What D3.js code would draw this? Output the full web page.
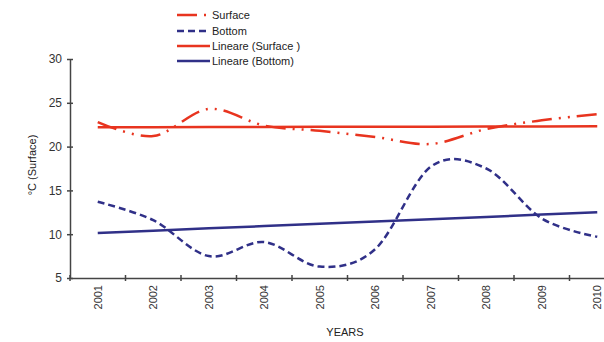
<!DOCTYPE html>
<html>
<head>
<meta charset="utf-8">
<script src="https://cdn.jsdelivr.net/npm/d3@7"></script>
<style>
  body { margin: 0; background: #fff; }
  svg { display: block; font-family: "Liberation Sans", Arial, sans-serif; }
</style>
</head>
<body>
<div id="graph_draw"></div>
<script>
// data
var years = ["2001","2002","2003","2004","2005","2006","2007","2008","2009","2010"];
var surface = [22.8, 21.2, 24.3, 22.4, 21.8, 21.1, 20.3, 22.0, 23.0, 23.7];
var bottom  = [13.7, 11.6, 7.5, 9.1, 6.3, 8.3, 17.7, 17.5, 11.8, 9.7];
var yTicks = [5, 10, 15, 20, 25, 30];
var legendNames = ["Surface", "Bottom", "Lineare (Surface )", "Lineare (Bottom)"];

var red = "#e8341f", blue = "#303088";
var width = 604, height = 342;

var svg = d3.select("#graph_draw").append("svg")
    .attr("width", width)
    .attr("height", height);

// scales - plot area runs past the right edge (cropped like the original)
var x = d3.scaleBand().domain(years).range([70, 625]).padding(0);
var y = d3.scaleLinear().domain([5, 30]).range([278, 59]);
var cx = function(d) { return x(d) + x.bandwidth() / 2; };

// linear trend (least squares) for each series
function trend(vals) {
    var xs = vals.map(function(d, i) { return i; });
    var mx = d3.mean(xs), my = d3.mean(vals);
    var sxy = d3.sum(xs, function(v, i) { return (v - mx) * (vals[i] - my); });
    var sxx = d3.sum(xs, function(v) { return (v - mx) * (v - mx); });
    var b = sxy / sxx, a = my - b * mx;
    return vals.map(function(d, i) { return a + b * i; });
}

var smooth = d3.line()
    .x(function(d, i) { return cx(years[i]); })
    .y(function(d) { return y(d); })
    .curve(d3.curveCardinal.tension(0));
var straight = d3.line()
    .x(function(d, i) { return cx(years[i]); })
    .y(function(d) { return y(d); });

// trend lines
svg.append("path").datum(trend(surface))
    .attr("d", straight).attr("fill", "none")
    .attr("stroke", red).attr("stroke-width", 2.5);
svg.append("path").datum(trend(bottom))
    .attr("d", straight).attr("fill", "none")
    .attr("stroke", blue).attr("stroke-width", 2.5);

// series
svg.append("path").datum(surface)
    .attr("d", smooth).attr("fill", "none")
    .attr("stroke", red).attr("stroke-width", 2.5)
    .attr("stroke-dasharray", "20,7,2,7,2,7");
svg.append("path").datum(bottom)
    .attr("d", smooth).attr("fill", "none")
    .attr("stroke", blue).attr("stroke-width", 2.5)
    .attr("stroke-dasharray", "7,4");

// Y axis
var yAxis = svg.append("g")
    .attr("transform", "translate(70,0)")
    .call(d3.axisLeft(y).tickValues(yTicks).tickSize(3).tickPadding(5).tickSizeOuter(0));
yAxis.selectAll(".tick line").attr("x1", -3).attr("x2", 3);
yAxis.selectAll("text").style("font-size", "12px").attr("fill", "#333");
yAxis.selectAll("line, path").attr("stroke", "#444").attr("stroke-width", 1.5);

// X axis
var xAxis = svg.append("g")
    .attr("transform", "translate(0,278)")
    .call(d3.axisBottom(x).tickSize(0).tickSizeOuter(0));
xAxis.selectAll(".tick text")
    .attr("transform", "rotate(-90)")
    .attr("text-anchor", "end")
    .attr("x", -7).attr("y", 0).attr("dy", "0.35em")
    .style("font-size", "11px").attr("fill", "#333");
xAxis.select(".domain").attr("stroke", "#444").attr("stroke-width", 1.5);
xAxis.selectAll(".bound").data(years).enter().append("line")
    .attr("x1", function(d) { return x(d); })
    .attr("x2", function(d) { return x(d); })
    .attr("y1", -3).attr("y2", 3)
    .attr("stroke", "#444").attr("stroke-width", 1.5);

// axis titles
svg.append("text")
    .attr("transform", "translate(36,165) rotate(-90)")
    .attr("text-anchor", "middle")
    .style("font-size", "11px").attr("fill", "#222")
    .text("°C (Surface)");
svg.append("text")
    .attr("x", 345).attr("y", 336)
    .attr("text-anchor", "middle")
    .style("font-size", "11px").attr("fill", "#222")
    .text("YEARS");

// legend
var legendStyle = [
    {color: red, dash: "20,7,2,7,2,7"},
    {color: blue, dash: "7,4"},
    {color: red, dash: null},
    {color: blue, dash: null}
];
var legend = svg.selectAll(".legend").data(legendNames).enter().append("g")
    .attr("transform", function(d, i) { return "translate(177," + [15, 31, 46, 61][i] + ")"; });
legend.append("line")
    .attr("x1", 0).attr("x2", 33).attr("y1", 0).attr("y2", 0)
    .attr("stroke", function(d, i) { return legendStyle[i].color; })
    .attr("stroke-width", 2.5)
    .attr("stroke-dasharray", function(d, i) { return legendStyle[i].dash; });
legend.append("text")
    .attr("x", 35).attr("y", 0).attr("dy", "0.35em")
    .style("font-size", "11px").attr("fill", "#222")
    .text(function(d) { return d; });
</script>
</body>
</html>
